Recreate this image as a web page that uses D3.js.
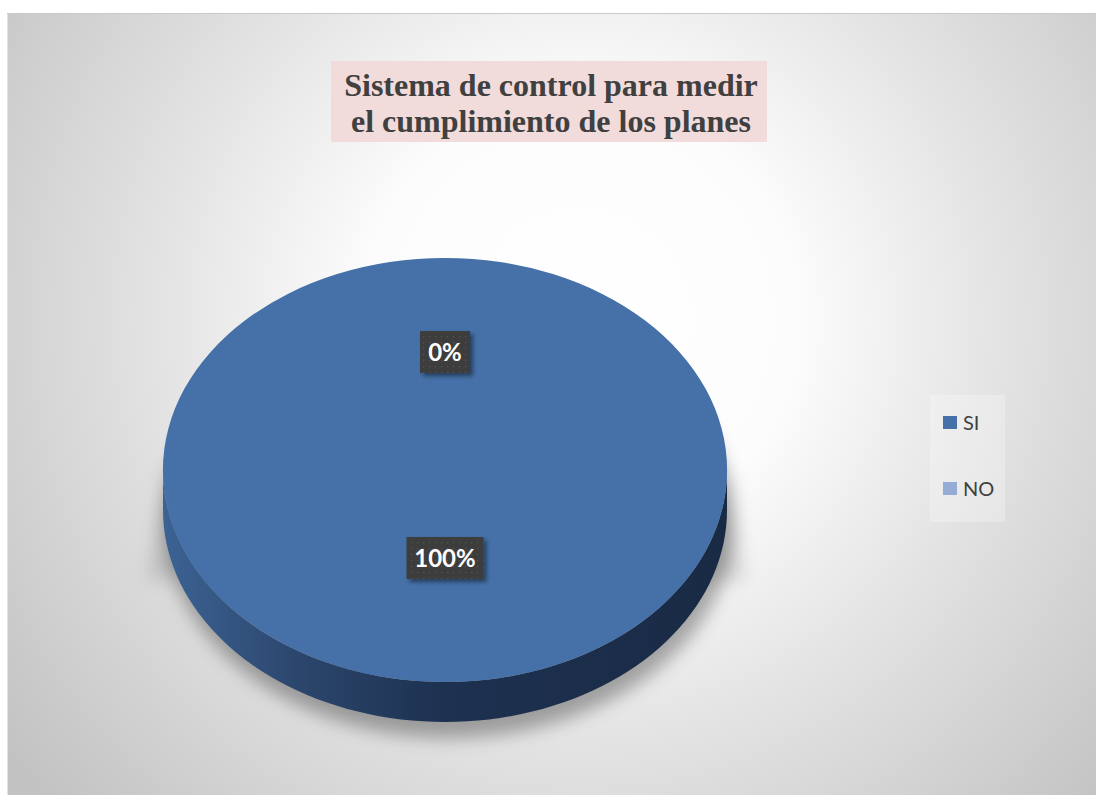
<!DOCTYPE html>
<html>
<head>
<meta charset="utf-8">
<script src="https://cdn.jsdelivr.net/npm/d3@7"></script>
<style>
  html, body { margin: 0; padding: 0; background: #ffffff; }
  svg { display: block; }
</style>
</head>
<body>
<svg id="chart" width="1096" height="795"></svg>
<script>
// Survey answers and their shares
const categories = ["SI", "NO"];
const values = [100, 0];
const colors = ["#4571a8", "#95acd4"];
const titleLines = ["Sistema de control para medir", "el cumplimiento de los planes"];

const W = 1096, H = 795;
const svg = d3.select("#chart");
const defs = svg.append("defs");

// Chart area background: soft radial light
const bg = defs.append("radialGradient").attr("id", "bgGrad")
  .attr("gradientUnits", "userSpaceOnUse")
  .attr("cx", 580).attr("cy", 320).attr("r", 720);
bg.append("stop").attr("offset", 0).attr("stop-color", "#ffffff");
bg.append("stop").attr("offset", 0.3).attr("stop-color", "#fcfcfc");
bg.append("stop").attr("offset", 0.6).attr("stop-color", "#e2e2e2");
bg.append("stop").attr("offset", 1).attr("stop-color", "#c2c2c2");

svg.append("rect").attr("x", 7).attr("y", 13).attr("width", W - 7).attr("height", H - 13)
  .attr("fill", "url(#bgGrad)");
svg.append("line").attr("x1", 7.5).attr("x2", 7.5).attr("y1", 13).attr("y2", H)
  .attr("stroke", "#e2e2e2").attr("stroke-width", 1);
svg.append("line").attr("x1", 7).attr("x2", W).attr("y1", 13.5).attr("y2", 13.5)
  .attr("stroke", "#c9c9c9").attr("stroke-width", 1);

// Title
const title = svg.append("g");
title.append("rect").attr("x", 331).attr("y", 61).attr("width", 436).attr("height", 81)
  .attr("fill", "#f2dcdb");
title.selectAll("text").data(titleLines).join("text")
  .attr("x", 551).attr("y", (d, i) => 96 + i * 36)
  .attr("text-anchor", "middle")
  .attr("font-family", "'Liberation Serif', 'Times New Roman', serif")
  .attr("font-weight", "bold").attr("font-size", 32)
  .attr("fill", "#404040")
  .text(d => d);

// 3D pie geometry
const cx = 445, cy = 470, rx = 282, ry = 212, depth = 40;
const tilt = ry / rx;

const pie = d3.pie().sort(null).value(d => d)(values);
const arc = d3.arc().innerRadius(0).outerRadius(rx);

// Shadow under the pie
const blur = defs.append("filter").attr("id", "shadowBlur")
  .attr("x", "-30%").attr("y", "-30%").attr("width", "160%").attr("height", "160%");
blur.append("feGaussianBlur").attr("stdDeviation", 9);

const shadow = svg.append("g").attr("filter", "url(#shadowBlur)");
shadow.append("ellipse").attr("cx", cx + 4).attr("cy", cy + depth + 12)
  .attr("rx", rx + 2).attr("ry", ry + 4).attr("fill", "#000").attr("opacity", 0.32);
shadow.append("path")
  .attr("d", `M${cx - rx + 4},${cy - 10} L${cx - rx - 16},${cy + 110} L${cx - rx + 30},${cy + 110} Z`)
  .attr("fill", "#000").attr("opacity", 0.12);
shadow.append("path")
  .attr("d", `M${cx + rx - 4},${cy - 10} L${cx + rx + 18},${cy + 110} L${cx + rx - 30},${cy + 110} Z`)
  .attr("fill", "#000").attr("opacity", 0.12);

// Side wall gradient (light on the left, deep on the right)
const side = defs.append("linearGradient").attr("id", "sideGrad")
  .attr("gradientUnits", "userSpaceOnUse")
  .attr("x1", cx - rx).attr("x2", cx + rx).attr("y1", 0).attr("y2", 0);
side.append("stop").attr("offset", 0).attr("stop-color", "#3c6394");
side.append("stop").attr("offset", 0.25).attr("stop-color", "#2b456b");
side.append("stop").attr("offset", 0.5).attr("stop-color", "#1d3150");
side.append("stop").attr("offset", 1).attr("stop-color", "#192a44");

// Point on the ellipse for a d3 pie angle (0 at top, clockwise)
const pt = (a, dy = 0) => [cx + rx * Math.sin(a), cy - ry * Math.cos(a) + dy];

const sides = svg.append("g");
pie.forEach((s) => {
  const a0 = Math.max(s.startAngle, Math.PI / 2);
  const a1 = Math.min(s.endAngle, 3 * Math.PI / 2);
  if (a1 <= a0) return;
  const n = 80;
  const top = d3.range(n + 1).map(i => pt(a0 + (a1 - a0) * i / n));
  const bottom = top.map(p => [p[0], p[1] + depth]).reverse();
  sides.append("path")
    .attr("d", d3.line()(top.concat(bottom)) + "Z")
    .attr("fill", "url(#sideGrad)");
});

// Top face: d3 arcs squashed into the tilted plane
const topFace = svg.append("g")
  .attr("transform", `translate(${cx},${cy}) scale(1,${tilt})`);
topFace.selectAll("path").data(pie).join("path")
  .attr("d", arc)
  .attr("fill", (d, i) => colors[i]);

// Data labels
const pattern = defs.append("pattern").attr("id", "dots")
  .attr("patternUnits", "userSpaceOnUse").attr("width", 6).attr("height", 6);
pattern.append("rect").attr("width", 6).attr("height", 6).attr("fill", "#3d3d3d");
pattern.append("rect").attr("x", 2).attr("y", 2).attr("width", 1.2).attr("height", 1.2).attr("fill", "#555555");

const lblShadow = defs.append("filter").attr("id", "lblShadow")
  .attr("x", "-30%").attr("y", "-30%").attr("width", "160%").attr("height", "160%");
lblShadow.append("feDropShadow").attr("dx", 3).attr("dy", 3).attr("stdDeviation", 2)
  .attr("flood-color", "#000").attr("flood-opacity", 0.45);

const labelArc = d3.arc().innerRadius(137).outerRadius(137);
const lift = -15; // perspective shift of the label ring
const labels = svg.append("g");
pie.forEach((s, i) => {
  const c = labelArc.centroid(s);
  const x = cx + c[0];
  const y = cy + c[1] * tilt + lift;
  const txt = d3.format(".0%")(values[i] / d3.sum(values));
  const w = txt.length * 13.5 + 23;
  const g = labels.append("g").attr("transform", `translate(${x},${y})`);
  g.append("rect").attr("x", -w / 2).attr("y", -21).attr("width", w).attr("height", 42)
    .attr("fill", "url(#dots)").attr("filter", "url(#lblShadow)");
  g.append("text").attr("text-anchor", "middle").attr("dy", "0.36em")
    .attr("font-family", "Lato, 'Open Sans', sans-serif").attr("font-weight", "bold")
    .attr("font-size", 24).attr("fill", "#ffffff").text(txt);
});

// Legend
const legend = svg.append("g");
legend.append("rect").attr("x", 930).attr("y", 395).attr("width", 75).attr("height", 127)
  .attr("fill", "#ffffff").attr("opacity", 0.25);
const item = legend.selectAll("g").data(categories).join("g")
  .attr("transform", (d, i) => `translate(943,${416 + i * 66})`);
item.append("rect").attr("width", 14).attr("height", 13).attr("fill", (d, i) => colors[i]);
item.append("text").attr("x", 20).attr("y", 14)
  .attr("font-family", "Lato, 'Open Sans', sans-serif").attr("font-size", 20)
  .attr("fill", "#404040").text(d => d);
</script>
</body>
</html>
